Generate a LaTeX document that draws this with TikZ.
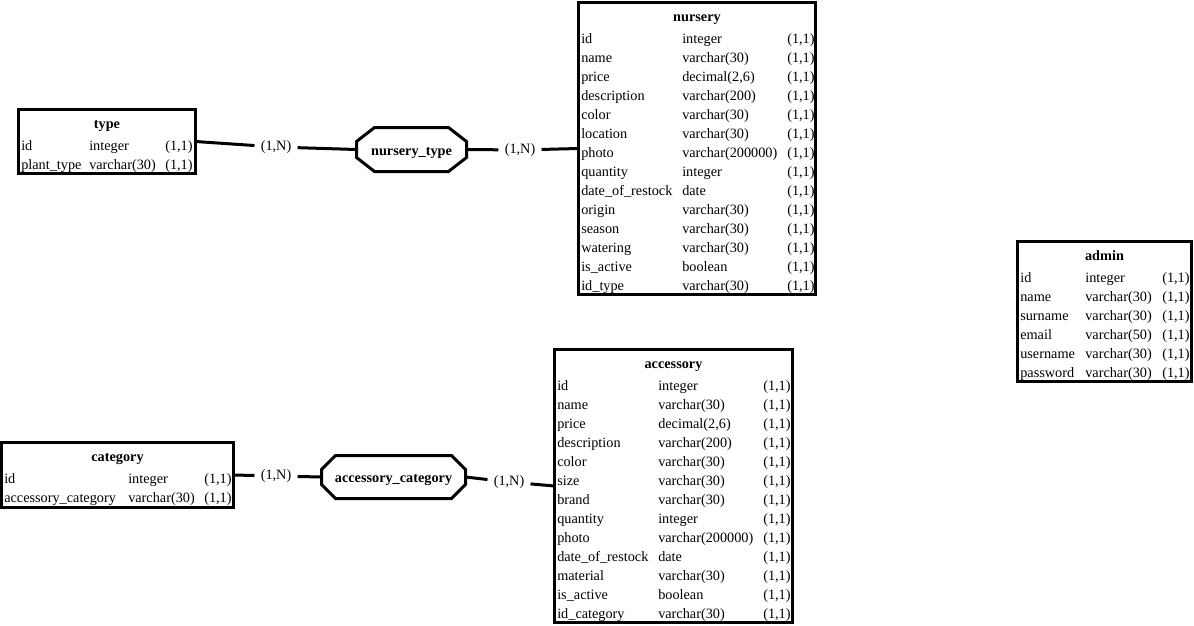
\documentclass[tikz,border=0pt]{standalone}
\usepackage{fontspec}
\setmainfont{Liberation Serif}
\usetikzlibrary{calc}

\tikzset{
  entity/.style={draw, line width=2.25pt, inner sep=0pt, outer sep=0pt, anchor=north west},
  etitle/.style={font=\fontsize{10.7}{12}\selectfont\bfseries, inner sep=0pt, anchor=base},
  cell/.style={font=\fontsize{10.7}{12}\selectfont, inner sep=0pt, anchor=base west},
  relbox/.style={inner sep=0pt, outer sep=0pt},
  reltext/.style={font=\fontsize{10.7}{12}\selectfont\bfseries, inner sep=0pt, anchor=base},
  octa/.style={line width=2.25pt, line join=miter},
  card/.style={font=\fontsize{10.7}{12}\selectfont, inner xsep=4.5pt, inner ysep=2pt},
  link/.style={line width=2.25pt},
}

% #1 name, #2 x, #3 y (top), #4 width, #5 height, #6 title, #7 col2 offset, #8 col3 offset, #9 rows
\newcommand\erent[9]{%
  \node[entity, minimum width={(#4-3)*0.75pt}, minimum height={(#5-3)*0.75pt}] (#1) at (#2+1.5,#3+1.5) {};
  \node[etitle] (#1-title) at (#2+#4/2,#3+20) {#6};
  \foreach \a/\b [count=\i] in {#9} {
    \node[cell] (#1-n\i) at (#2+4,#3+23+19*\i) {\a};
    \node[cell] (#1-d\i) at (#2+#7,#3+23+19*\i) {\b};
    \node[cell] (#1-c\i) at (#2+#8,#3+23+19*\i) {(1,1)};
  }%
}

% #1 name, #2 cx, #3 cy, #4 width, #5 height, #6 text, #7 chamfer x, #8 chamfer y
\newcommand\errel[8]{%
  \node[relbox, minimum width={(#4-3)*0.75pt}, minimum height={(#5-3)*0.75pt}] (#1) at (#2,#3) {};
  \node[reltext] (#1-text) at (#2,#3+5.5) {#6};
  \draw[octa] ($(#1.north west)+(#7,0)$) -- ($(#1.north east)+(-#7,0)$)
    -- ($(#1.north east)+(0,#8)$) -- ($(#1.south east)+(0,-#8)$)
    -- ($(#1.south east)+(-#7,0)$) -- ($(#1.south west)+(#7,0)$)
    -- ($(#1.south west)+(0,-#8)$) -- ($(#1.north west)+(0,#8)$) -- cycle;
}

\begin{document}
\begin{tikzpicture}[x=0.75pt,y=-0.75pt]
\useasboundingbox (0,0) rectangle (1194,625);

\erent{type}{17}{108}{180}{67}{type}{72}{148}{id/integer, plant\_type/varchar(30)}

\erent{nursery}{577}{1}{240}{295}{nursery}{105}{210}{id/integer, name/varchar(30), price/{decimal(2,6)}, description/varchar(200), color/varchar(30), location/varchar(30), photo/varchar(200000), quantity/integer, date\_of\_restock/date, origin/varchar(30), season/varchar(30), watering/varchar(30), is\_active/boolean, id\_type/varchar(30)}

\erent{accessory}{553}{348}{241}{276}{accessory}{105}{210}{id/integer, name/varchar(30), price/{decimal(2,6)}, description/varchar(200), color/varchar(30), size/varchar(30), brand/varchar(30), quantity/integer, photo/varchar(200000), date\_of\_restock/date, material/varchar(30), is\_active/boolean, id\_category/varchar(30)}

\erent{category}{0}{441}{235}{68}{category}{128}{204}{id/integer, accessory\_category/varchar(30)}

\erent{admin}{1016}{240}{177}{143}{admin}{69}{146}{id/integer, name/varchar(30), surname/varchar(30), email/varchar(50), username/varchar(30), password/varchar(30)}

\errel{nt}{411.5}{149.5}{113}{47}{nursery\_type}{18}{14}
\errel{ac}{393.5}{477}{147}{46}{accessory\_category}{14}{14}

\node[card] (l1) at (276,147) {(1,N)};
\node[card] (l2) at (520,150) {(1,N)};
\node[card] (l3) at (276,476) {(1,N)};
\node[card] (l4) at (509,482) {(1,N)};

\draw[link] (type.east) -- (l1);
\draw[link] (l1) -- (nt.west);
\draw[link] (nt.east) -- (l2);
\draw[link] (l2) -- (nursery.west);
\draw[link] (category.east) -- (l3);
\draw[link] (l3) -- (ac.west);
\draw[link] (ac.east) -- (l4);
\draw[link] (l4) -- (accessory.west);
\end{tikzpicture}
\end{document}
